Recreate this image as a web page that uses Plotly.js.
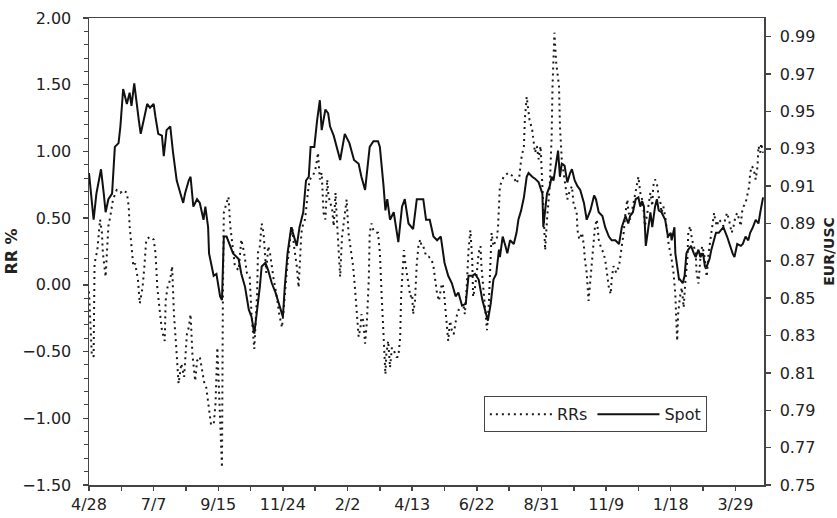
<!DOCTYPE html>
<html>
<head>
<meta charset="utf-8">
<script src="https://cdn.plot.ly/plotly-3.0.1.min.js"></script>
<style>
html,body{margin:0;padding:0;background:#fff;}
#chart{width:837px;height:518px;}
</style>
</head>
<body>
<div id="chart"></div>
<script>
// ---- DATA ----
// x positions are calendar days counted from START_DATE
const START_DATE = '2000-04-28';

const rrDays = [
  0,3,5,6,9,12,14,15,18,21,23,26,30,34,37,41,43,44,46,48,50,53,55,58,60,62,66,70,72,74,
  77,79,82,83,85,88,90,92,94,96,97,100,103,106,108,110,112,115,117,120,123,125,127,129,132,135,137,139,141,143,144,
  145,146,148,151,153,156,158,162,165,168,171,174,176,179,182,183,185,187,189,191,192,194,196,200,203,
  206,209,211,214,218,220,222,225,227,229,230,232,234,237,239,242,245,247,248,250,252,254,256,258,259,
  261,263,265,267,268,270,272,274,276,279,281,284,286,288,290,292,
  294,295,297,299,301,303,304,306,308,311,313,315,317,319,321,322,324,326,328,330,332,333,335,337,338,
  340,341,342,344,346,348,350,351,353,355,357,359,360,362,364,366,368,371,373,375,377,379,380,382,384,
  386,388,389,391,393,395,397,398,400,403,406,407,409,411,413,415,416,418,420,422,424,425,427,429,431,
  433,434,436,438,
  442,443,445,449,454,460,463,466,468,471,472,474,475,477,480,481,483,485,487,489,490,492,494,496,499,
  501,502,504,506,509,510,512,514,516,518,520,523,525,528,529,531,534,536,537,539,541,543,545,546,548,
  550,552,554,557,559,561,563,565,566,568,571,574,576,579,581,583,
  584,586,589,592,593,595,597,599,601,602,604,606,608,610,611,613,615,617,619,620,622,624,626,628,629,
  631,633,634,635,636,637,638,639,640,642,644,646,648,649,651,653,655,657,658,660,662,664,666,667,669,
  671,673,675,677,678,680,682,686,687,689,691,693,695,696,698,700,702,704,706,707,709,711,713,715,716,
  718,720,722,724,725,727,728,730
];
const rrValues = [
  -0.05,-0.52,-0.54,0.16,0.26,0.49,0.39,0.24,0.06,0.44,0.51,0.64,0.71,0.69,0.71,0.69,0.59,0.44,0.29,0.14,0.16,0.04,-0.14,-0.02,0.14,0.34,0.36,0.34,0.24,-0.02,
  -0.22,-0.34,-0.42,-0.12,-0.02,0.04,0.14,-0.22,-0.42,-0.67,-0.74,-0.59,-0.69,-0.37,-0.32,-0.22,-0.52,-0.72,-0.57,-0.54,-0.67,-0.74,-0.77,-0.89,-1.04,-1.05,-0.89,-0.47,-0.87,-1.22,-1.37,
  -0.09,0.54,0.59,0.66,0.44,0.24,0.14,0.11,0.34,0.24,0.09,0.06,-0.22,-0.48,-0.07,0.24,0.29,0.46,0.39,0.19,0.09,0.29,0.24,0.04,-0.07,
  -0.22,-0.32,-0.17,0.09,0.36,0.44,0.29,0.14,-0.02,0.24,0.39,0.46,0.49,0.69,0.79,0.81,0.86,0.94,0.99,0.79,0.84,0.54,0.49,0.79,0.69,
  0.61,0.59,0.44,0.69,0.54,0.29,0.06,0.36,0.49,0.64,0.39,0.24,0.14,-0.02,-0.22,-0.39,
  -0.32,-0.22,-0.27,-0.44,-0.27,0.04,0.39,0.46,0.41,0.39,0.39,0.24,-0.09,-0.39,-0.67,-0.52,-0.42,-0.62,-0.47,-0.49,-0.52,-0.54,-0.54,-0.39,-0.09,
  0.19,0.26,0.19,0.09,-0.02,-0.09,-0.07,-0.22,-0.12,0.16,0.31,0.34,0.29,0.29,0.24,0.21,0.21,0.19,0.14,0.04,-0.07,-0.12,-0.07,0.01,-0.02,
  -0.19,-0.34,-0.42,-0.27,-0.34,-0.37,-0.27,-0.24,-0.19,-0.17,-0.17,-0.22,-0.02,0.26,0.41,0.19,-0.09,-0.02,0.09,0.24,0.29,0.14,-0.02,-0.19,-0.34,
  -0.14,0.09,0.39,0.29,
  0.36,0.44,0.74,0.81,0.84,0.81,0.76,0.81,0.94,1.04,1.24,1.41,1.34,1.24,1.16,1.09,0.99,1.04,0.94,1.04,0.91,0.59,0.26,0.49,0.74,
  1.11,1.49,1.89,1.66,1.49,1.19,0.94,0.84,0.74,0.64,0.69,0.74,0.59,0.56,0.41,0.34,0.39,0.29,0.19,0.09,-0.12,0.04,0.16,0.29,0.44,
  0.49,0.34,0.29,0.24,0.19,0.09,-0.02,-0.07,0.04,0.14,0.09,0.14,0.24,0.39,0.54,0.64,
  0.56,0.49,0.59,0.69,0.74,0.81,0.69,0.64,0.54,0.44,0.51,0.59,0.69,0.59,0.74,0.79,0.76,0.66,0.61,0.54,0.59,0.51,0.39,0.29,0.26,
  0.19,0.09,0.01,-0.07,-0.27,-0.42,-0.22,-0.14,-0.09,-0.02,-0.17,0.04,0.19,0.39,0.44,0.34,0.29,0.24,0.09,0.01,0.19,0.29,0.24,0.19,0.06,
  0.24,0.34,0.44,0.54,0.49,0.44,0.49,0.46,0.44,0.49,0.54,0.49,0.41,0.39,0.44,0.51,0.54,0.49,0.44,0.54,0.59,0.61,0.69,0.74,0.84,
  0.89,0.86,0.79,0.89,1.04,0.99,1.06,0.99
];

const spotDays = [
  0,4,5,8,13,16,18,21,25,28,
  32,34,37,41,44,46,49,54,56,60,
  63,66,70,72,75,79,81,84,88,91,
  95,99,102,104,108,110,113,117,120,124,
  126,129,130,135,138,142,144,146,149,156,
  162,165,169,173,176,179,182,185,187,191,
  194,198,202,207,210,212,215,219,221,225,
  228,232,235,238,240,244,247,250,252,256,
  259,261,265,272,277,282,287,292,295,299,
  304,308,313,315,319,321,323,326,330,333,
  335,339,342,346,351,355,362,365,369,373,
  377,381,385,389,393,397,400,404,408,411,
  415,418,422,426,429,432,435,438,441,444,
  445,448,451,453,456,460,463,465,468,471,
  474,476,480,483,487,491,492,494,496,499,
  501,503,506,508,510,512,515,518,521,523,
  526,529,532,536,539,543,547,549,552,556,
  559,563,566,570,574,577,581,584,586,589,
  592,595,597,599,601,603,605,608,610,613,
  615,617,620,622,624,627,630,631,634,635,
  637,639,640,643,645,647,649,652,655,657,
  660,662,665,667,669,672,674,677,679,682,
  685,687,691,694,697,699,702,706,708,711,
  714,716,719,722,725,727,730
];
const spotValues = [
  0.917,0.894,0.892,0.906,0.919,0.906,0.896,0.903,0.906,0.931,
  0.933,0.942,0.962,0.954,0.960,0.953,0.965,0.945,0.938,0.947,
  0.954,0.952,0.954,0.947,0.938,0.937,0.926,0.940,0.942,0.928,
  0.913,0.906,0.901,0.906,0.913,0.915,0.899,0.903,0.901,0.892,
  0.899,0.888,0.874,0.862,0.863,0.851,0.849,0.883,0.883,0.874,
  0.871,0.863,0.856,0.844,0.840,0.831,0.842,0.856,0.867,0.869,
  0.865,0.858,0.853,0.844,0.840,0.856,0.874,0.888,0.885,0.878,
  0.888,0.896,0.913,0.915,0.931,0.931,0.945,0.956,0.940,0.951,
  0.949,0.942,0.937,0.924,0.938,0.933,0.924,0.922,0.915,0.908,
  0.931,0.934,0.934,0.931,0.910,0.897,0.903,0.892,0.896,0.885,
  0.880,0.899,0.903,0.890,0.887,0.903,0.903,0.892,0.892,0.883,
  0.881,0.883,0.869,0.862,0.858,0.851,0.853,0.846,0.847,0.862,
  0.862,0.863,0.860,0.849,0.844,0.838,0.847,0.860,0.863,0.876,
  0.872,0.883,0.878,0.874,0.881,0.879,0.885,0.892,0.897,0.904,
  0.915,0.917,0.915,0.914,0.912,0.906,0.888,0.896,0.906,0.910,
  0.915,0.913,0.924,0.929,0.915,0.922,0.921,0.912,0.917,0.919,
  0.913,0.910,0.908,0.901,0.892,0.897,0.905,0.903,0.896,0.894,
  0.888,0.883,0.881,0.881,0.879,0.888,0.894,0.890,0.894,0.896,
  0.903,0.904,0.899,0.902,0.899,0.878,0.885,0.896,0.888,0.899,
  0.903,0.897,0.896,0.894,0.892,0.883,0.885,0.881,0.888,0.874,
  0.867,0.860,0.860,0.858,0.862,0.874,0.876,0.878,0.874,0.872,
  0.876,0.872,0.874,0.867,0.867,0.871,0.876,0.881,0.885,0.885,
  0.887,0.888,0.883,0.878,0.874,0.872,0.879,0.878,0.879,0.883,
  0.881,0.885,0.888,0.892,0.890,0.896,0.904
];

const seriesNames = ['RRs', 'Spot'];
const leftAxisTitle = 'RR %';
const rightAxisTitle = 'EUR/USC';
const xTickFormat = '%-m/%-d';

// ---- build ----
const DAY_MS = 86400000;
const startMs = Date.parse(START_DATE + 'T00:00:00Z');
const toDate = d => new Date(startMs + d * DAY_MS).toISOString().slice(0, 10);

const AX = '#444';
const traces = [
  {
    x: rrDays.map(toDate), y: rrValues, name: seriesNames[0], type: 'scatter', mode: 'lines',
    line: {color: '#1a1a1a', width: 2, dash: '2px,4px'}, xaxis: 'x', yaxis: 'y'
  },
  {
    x: spotDays.map(toDate), y: spotValues, name: seriesNames[1], type: 'scatter', mode: 'lines',
    line: {color: '#111', width: 2}, xaxis: 'x', yaxis: 'y2'
  }
];

const xCommon = {
  type: 'date', range: [toDate(0), toDate(731)],
  tickmode: 'linear', tick0: START_DATE, dtick: 70 * DAY_MS,
  showgrid: false, zeroline: false
};
const yRightCommon = {
  range: [0.75, 1.0], tickmode: 'linear', tick0: 0.75, dtick: 0.02,
  showgrid: false, zeroline: false
};

const layout = {
  width: 837, height: 518,
  margin: {l: 89, r: 73, t: 18, b: 33, pad: 0},
  paper_bgcolor: '#fff', plot_bgcolor: '#fff',
  font: {family: 'DejaVu Sans, sans-serif', size: 16, color: '#222'},
  showlegend: true,
  legend: {
    orientation: 'h', x: 0.585, y: 0.19, xanchor: 'left', yanchor: 'top',
    bordercolor: AX, borderwidth: 1, bgcolor: '#fff', itemwidth: 62,
    font: {size: 16, color: '#222'}, traceorder: 'normal'
  },
  xaxis: Object.assign({}, xCommon, {
    tickformat: xTickFormat, ticks: 'outside', ticklen: 4, tickcolor: AX, tickwidth: 1.5,
    minor: {tickmode: 'linear', tick0: START_DATE, dtick: 35 * DAY_MS, ticks: 'outside', ticklen: 4, tickcolor: AX, tickwidth: 1.5},
    showline: true, linecolor: AX, linewidth: 1.5, mirror: true, ticklabelstandoff: 0
  }),
  xaxis2: Object.assign({}, xCommon, {
    overlaying: 'x', anchor: 'y', side: 'bottom', showticklabels: false,
    ticks: 'inside', ticklen: 4, tickcolor: AX, tickwidth: 1.5,
    minor: {tickmode: 'linear', tick0: START_DATE, dtick: 35 * DAY_MS, ticks: 'inside', ticklen: 4, tickcolor: AX, tickwidth: 1.5},
    showline: false
  }),
  yaxis: {
    range: [-1.5, 2.0], tickmode: 'linear', tick0: -1.5, dtick: 0.5, tickformat: '.2f',
    ticks: 'outside', ticklen: 5, tickcolor: AX, tickwidth: 1.5,
    minor: {dtick: 0.1, tick0: -1.5, ticks: 'outside', ticklen: 4, tickcolor: AX, tickwidth: 1},
    showline: true, linecolor: AX, linewidth: 1.5, showgrid: false, zeroline: false,
    ticklabelstandoff: 8,
    title: {text: leftAxisTitle, font: {size: 16, color: '#222', weight: 'bold'}, standoff: 0}
  },
  yaxis2: Object.assign({}, yRightCommon, {
    overlaying: 'y', side: 'right', anchor: 'x', tickformat: '.2f',
    ticks: 'outside', ticklen: 5, tickcolor: AX, tickwidth: 1.5,
    showline: true, linecolor: AX, linewidth: 1.5, ticklabelstandoff: 6,
    title: {text: rightAxisTitle, font: {size: 14, color: '#222', weight: 'bold'}, standoff: 10}
  }),
  yaxis3: Object.assign({}, yRightCommon, {
    overlaying: 'y', side: 'right', anchor: 'x', showticklabels: false,
    ticks: 'inside', ticklen: 7, tickcolor: AX, tickwidth: 1.5, showline: false
  })
};

Plotly.newPlot('chart', traces, layout, {displayModeBar: false, staticPlot: true});
</script>
</body>
</html>
